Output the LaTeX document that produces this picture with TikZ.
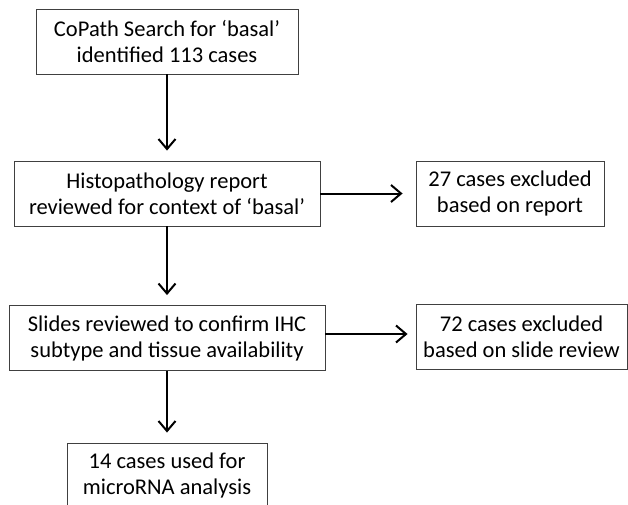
\documentclass[tikz,border=0pt]{standalone}
\usepackage{fontspec}
\setmainfont{Carlito}
\usetikzlibrary{shapes,arrows.meta,positioning,calc}

\begin{document}
\begin{tikzpicture}[x=1pt,y=1pt,
    box/.style={rectangle,draw=black!75,line width=0.9pt,inner sep=0pt,align=center,minimum height=65pt,font=\fontsize{22.5}{26}\selectfont},
    flow/.style={line width=2pt,-{Straight Barb[length=10pt,width=17pt,line width=2pt]}}]
    \useasboundingbox (0,0) rectangle (628,-504);

    % Search
    \node[box,minimum width=262pt] (search) at (167,-41.5) {CoPath Search for ‘basal’\\identified 113 cases};

    % Report review
    \node[box,minimum width=306pt] (report) at (167,-193.5) {Histopathology report\\reviewed for context of ‘basal’};
    \draw[flow,shorten >=10pt] (search) -- (report);

    % Excluded on report
    \node[box,minimum width=188pt] (exreport) at (510,-193.5) {27 cases excluded\\based on report};
    \draw[flow,shorten >=13pt] (report) -- (exreport);

    % Slide review
    \node[box,minimum width=316pt] (slides) at (167,-338) {Slides reviewed to confirm IHC\\subtype and tissue availability};
    \draw[flow,shorten >=10pt] (report) -- (slides);

    % Excluded on slides
    \node[box,minimum width=211pt] (exslides) at (521.5,-336.5) {72 cases excluded\\based on slide review};
    \draw[flow,shorten >=8pt] ([yshift=4pt]slides.east) -- ([yshift=4pt]slides.east -| exslides.west);

    % Final set
    \node[box,minimum width=200pt] (final) at (167,-475.5) {14 cases used for\\microRNA analysis};
    \draw[flow,shorten >=10pt] (slides) -- (final);
\end{tikzpicture}
\end{document}
